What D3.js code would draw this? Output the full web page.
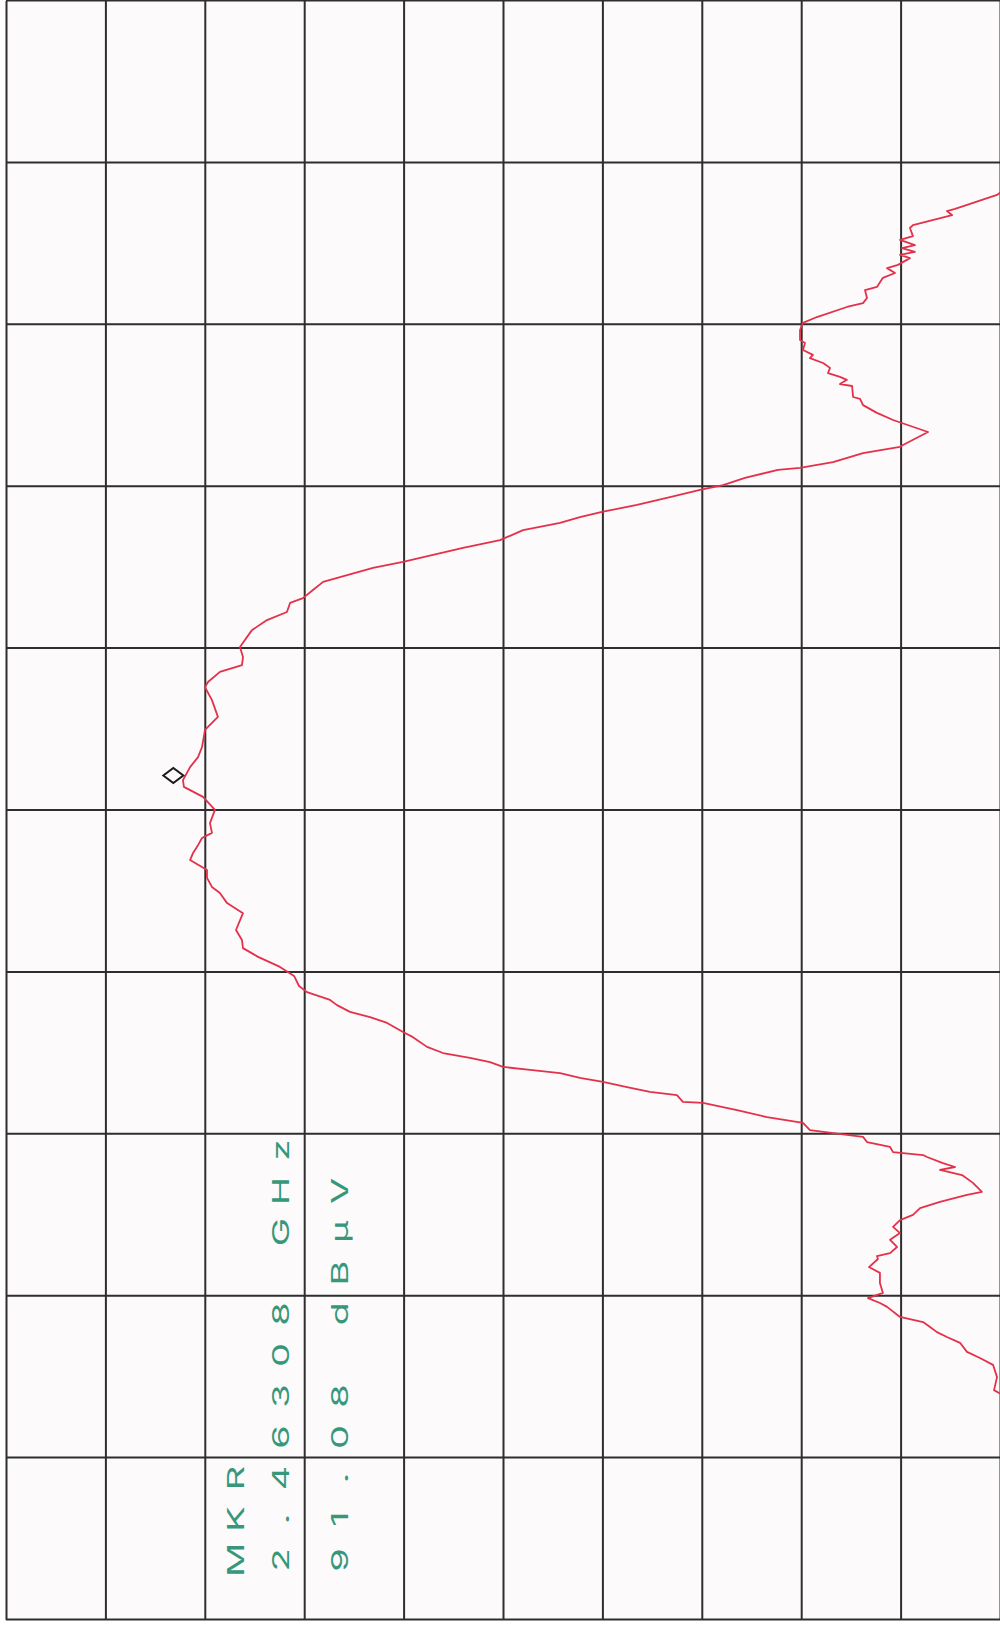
<!DOCTYPE html>
<html>
<head>
<meta charset="utf-8">
<script src="https://cdn.jsdelivr.net/npm/d3@7"></script>
<style>
  html, body { margin: 0; padding: 0; background: #ffffff; }
  svg { display: block; }
</style>
</head>
<body>
<svg id="chart" width="1000" height="1630"></svg>
<script>
// ---------- DATA ----------
// Spectrum trace: frequency (MHz) and level (dBμV)
const freqMHz = [
  2443.79, 2444.10, 2444.50, 2444.88, 2445.09, 2445.28, 2445.56, 2445.74, 2445.89, 2446.05,
  2446.20, 2446.36, 2446.67, 2446.79, 2446.94, 2447.10, 2447.41, 2447.72, 2447.90, 2448.15,
  2448.24, 2448.33, 2448.52, 2448.74, 2448.95, 2449.14, 2449.35, 2449.51, 2449.72, 2449.91,
  2450.13, 2450.22, 2450.50, 2450.74, 2450.90, 2450.99, 2451.11, 2451.30, 2451.36, 2451.45,
  2451.61, 2451.76, 2451.92, 2451.98, 2452.13, 2452.35, 2452.53, 2452.75, 2452.97, 2453.00,
  2453.21, 2453.31, 2453.46, 2453.62, 2453.74, 2453.89, 2453.99, 2454.08, 2454.23, 2454.36,
  2454.51, 2454.70, 2455.00, 2455.16, 2455.44, 2455.62, 2455.78, 2455.99, 2456.15, 2456.39,
  2456.58, 2456.89, 2457.17, 2457.48, 2457.75, 2458.00, 2458.31, 2458.83, 2459.14, 2459.45,
  2459.64, 2459.92, 2460.16, 2460.47, 2460.69, 2460.93, 2461.15, 2461.31, 2461.61, 2462.02,
  2462.42, 2462.73, 2462.94, 2463.34, 2463.65, 2463.96, 2464.49, 2464.89, 2465.41, 2465.81,
  2465.97, 2466.28, 2466.49, 2466.74, 2467.05, 2467.57, 2467.88, 2468.13, 2468.41, 2468.56,
  2468.81, 2469.06, 2469.49, 2469.68, 2470.11, 2470.35, 2470.66, 2470.88, 2471.06, 2471.22,
  2471.44, 2471.68, 2471.90, 2472.05, 2472.27, 2472.52, 2472.58, 2472.76, 2473.04, 2473.23,
  2473.29, 2473.69, 2474.06, 2474.28, 2474.52, 2474.71, 2474.77, 2475.11, 2475.17, 2475.30,
  2475.39, 2475.51, 2475.67, 2475.82, 2475.97, 2476.07, 2476.22, 2476.44, 2476.53, 2476.84,
  2477.06, 2477.24, 2477.55, 2477.67, 2477.83, 2478.07, 2478.17, 2478.45, 2478.60, 2478.75,
  2478.85, 2479.06, 2479.16, 2479.25, 2479.37, 2479.46, 2479.62, 2479.74, 2479.99, 2480.08,
  2480.39, 2480.51, 2480.58, 2481.01, 2481.32
];
const levelDbuV = [
  49.40, 50.30, 50.15, 50.35, 51.01, 51.66, 52.01, 52.67, 53.17, 53.52,
  53.87, 55.03, 55.68, 56.04, 56.64, 55.89, 56.04, 56.04, 56.59, 56.14,
  56.19, 55.53, 55.18, 55.53, 55.03, 55.38, 55.03, 54.38, 54.02, 53.02,
  51.66, 50.91, 51.36, 51.91, 53.02, 52.26, 52.87, 53.67, 53.87, 55.38,
  55.53, 56.69, 56.89, 57.70, 59.56, 59.91, 61.72, 63.23, 64.94, 65.95,
  66.25, 67.61, 68.76, 69.97, 71.13, 72.13, 73.64, 75.00, 75.65, 76.66,
  78.02, 78.82, 79.53, 80.03, 80.83, 81.69, 82.70, 83.35, 83.70, 84.86,
  85.26, 85.51, 86.22, 87.32, 88.08, 88.13, 88.43, 88.08, 88.88, 89.24,
  89.64, 89.89, 89.89, 90.74, 90.59, 90.34, 90.14, 89.64, 89.74, 89.49,
  90.09, 91.05, 91.10, 90.74, 90.34, 90.14, 89.99, 89.34, 89.64, 89.99,
  89.84, 89.24, 88.13, 88.08, 88.23, 87.63, 86.87, 85.87, 85.71, 85.06,
  84.56, 84.05, 81.54, 80.03, 77.01, 75.15, 73.99, 72.13, 71.13, 70.02,
  68.26, 66.60, 65.09, 63.93, 62.83, 61.17, 60.06, 58.40, 56.89, 55.03,
  54.88, 53.62, 55.38, 56.19, 56.89, 57.04, 57.39, 57.44, 58.05, 57.70,
  58.05, 58.65, 58.55, 58.90, 59.56, 59.41, 59.91, 59.81, 60.06, 60.06,
  59.91, 59.21, 57.70, 56.89, 56.69, 56.79, 56.19, 55.89, 55.28, 55.68,
  55.13, 54.53, 55.03, 54.28, 54.93, 54.28, 55.03, 54.38, 54.53, 54.38,
  52.41, 52.67, 52.26, 50.15, 49.50
];

// Graticule divisions (10 x 10): 5 MHz/div, 5 dB/div
const freqGridMHz = [2437, 2442, 2447, 2452, 2457, 2462, 2467, 2472, 2477, 2482, 2487];
const levelGridDb = [100, 95, 90, 85, 80, 75, 70, 65, 60, 55, 50];

// Marker readout
const markerFreqGHz = 2.46308;
const markerLevelDb = 91.08;
const markerLines = ["MKR", "2.46308 GHz", "91.08 dBμV"];

// ---------- LAYOUT ----------
const svg = d3.select("#chart");
const page = { left: 6, top: 1, right: 1000, bottom: 1620 };
// The printout is rotated: frequency runs bottom -> top, level runs right -> left.
const W = page.bottom - page.top;   // local width (frequency)
const H = page.right - page.left;   // local height (level)

svg.append("rect").attr("x", 0).attr("y", 0).attr("width", 1000).attr("height", 1630).attr("fill", "#ffffff");

const g = svg.append("g")
  .attr("transform", `translate(${page.left},${page.bottom}) rotate(-90)`);

const x = d3.scaleLinear().domain([d3.min(freqGridMHz), d3.max(freqGridMHz)]).range([0, W]);
const y = d3.scaleLinear().domain([d3.max(levelGridDb), d3.min(levelGridDb)]).range([0, H]);

// paper
g.append("rect").attr("x", 0).attr("y", 0).attr("width", W).attr("height", H).attr("fill", "#fcfafa");

// clip
g.append("clipPath").attr("id", "plotclip")
  .append("rect").attr("x", 0).attr("y", 0).attr("width", W).attr("height", H);

// grid via axes
const gridColor = "#2e2e2e";
const xGrid = g.append("g")
  .attr("transform", `translate(0,${H})`)
  .call(d3.axisBottom(x).tickValues(freqGridMHz).tickSize(-H).tickFormat(""));
const yGrid = g.append("g")
  .call(d3.axisLeft(y).tickValues(levelGridDb).tickSize(-W).tickFormat(""));
[xGrid, yGrid].forEach(ax => {
  ax.select(".domain").remove();
  ax.selectAll("line").attr("stroke", gridColor).attr("stroke-width", 2);
});

// marker readout text (plotter style, fixed pitch)
const textStart = 60, pitch = 41;
const baselines = [238, 283, 342];
const textG = g.append("g")
  .attr("fill", "#36977a")
  .attr("font-family", "Inter, 'DejaVu Sans', sans-serif")
  .attr("font-weight", 400)
  .attr("font-size", 23);
markerLines.forEach((line, i) => {
  const chars = Array.from(line).map((c, j) => ({ c, j })).filter(d => d.c !== " ");
  textG.selectAll(null).data(chars).join("text")
    .attr("transform", d => `translate(${textStart + d.j * pitch},${baselines[i]}) scale(1.65,1)`)
    .attr("text-anchor", "middle")
    .text(d => d.c);
});

// trace
const trace = freqMHz.map((f, i) => ({ f, v: levelDbuV[i] }));
g.append("path")
  .datum(trace)
  .attr("clip-path", "url(#plotclip)")
  .attr("fill", "none")
  .attr("stroke", "#e4314b")
  .attr("stroke-width", 1.8)
  .attr("stroke-linejoin", "round")
  .attr("d", d3.line().x(d => x(d.f)).y(d => y(d.v)));

// marker diamond: bottom vertex on the trace
const mx = x(markerFreqGHz * 1000), my = y(markerLevelDb);
g.append("path")
  .attr("d", `M${mx},${my} L${mx - 7.5},${my - 10} L${mx},${my - 20} L${mx + 7.5},${my - 10} Z`)
  .attr("fill", "none")
  .attr("stroke", "#1a1a1a")
  .attr("stroke-width", 2);
</script>
</body>
</html>
